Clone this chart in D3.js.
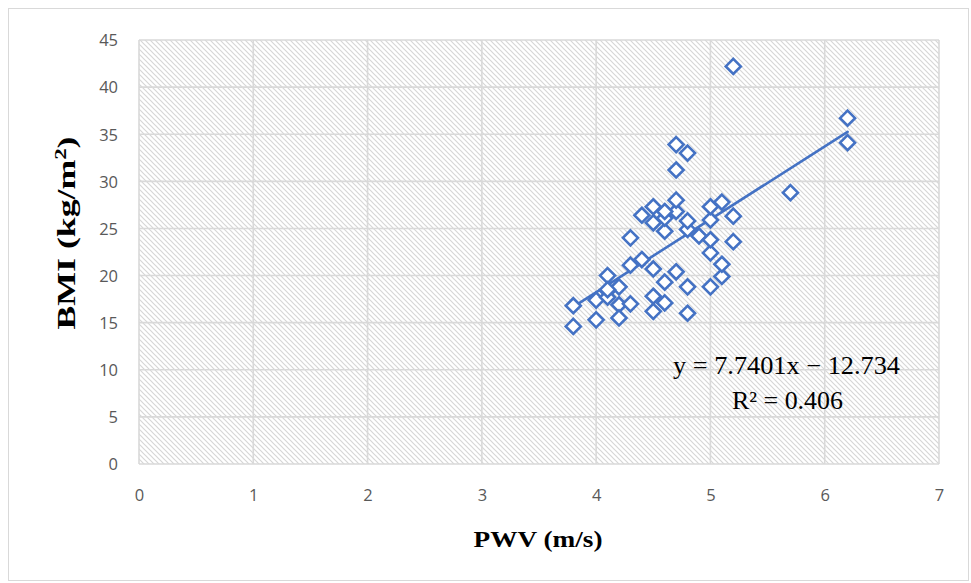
<!DOCTYPE html>
<html>
<head>
<meta charset="utf-8">
<script src="https://cdn.jsdelivr.net/npm/d3@7"></script>
<style>
  body { margin: 0; background: #fff; }
  svg { display: block; }
</style>
</head>
<body>
<svg width="971" height="583"></svg>
<script>
// PWV (m/s) vs BMI (kg/m2)
var pwv = [3.8, 3.8, 4.0, 4.0, 4.1, 4.1, 4.1, 4.2, 4.2, 4.2, 4.3, 4.3, 4.3,
  4.4, 4.4, 4.5, 4.5, 4.5, 4.5, 4.5, 4.6, 4.6, 4.6, 4.6, 4.7, 4.7, 4.7,
  4.7, 4.7, 4.8, 4.8, 4.8, 4.8, 4.8, 4.9, 5.0, 5.0, 5.0, 5.0, 5.0, 5.1,
  5.1, 5.1, 5.2, 5.2, 5.2, 5.7, 6.2, 6.2, 4.1, 4.6];
var bmi = [16.8, 14.6, 17.4, 15.3, 20.0, 18.4, 17.7, 18.8, 16.9, 15.5, 21.1, 17.0, 24.0,
  21.7, 26.4, 20.7, 17.8, 16.2, 25.6, 27.3, 19.3, 17.1, 24.7, 26.1, 20.4, 26.8, 28.0,
  31.2, 33.9, 18.8, 16.0, 24.9, 25.8, 33.0, 24.2, 18.8, 22.4, 23.8, 25.9, 27.3, 19.9,
  21.2, 27.8, 23.6, 26.3, 42.2, 28.8, 36.7, 34.1, 18.5, 26.8];

var slope = 7.7401, intercept = -12.734, r2 = "0.406";
var xTicks = [0, 1, 2, 3, 4, 5, 6, 7];
var yTicks = [0, 5, 10, 15, 20, 25, 30, 35, 40, 45];

var svg = d3.select("svg");
var blue = "#4472C4";
var grid = "#d9d9d9";
var serif = "'Liberation Serif', 'DejaVu Serif', serif";

var x = d3.scaleLinear().domain([0, 7]).range([139, 939]);
var y = d3.scaleLinear().domain([0, 45]).range([464, 40]);

// chart border
svg.append("rect")
  .attr("x", 8.5).attr("y", 8.5)
  .attr("width", 960).attr("height", 572)
  .attr("fill", "#fff")
  .attr("stroke", grid);

// hatch fill of the plot area
var pat = svg.append("defs").append("pattern")
  .attr("id", "hatch")
  .attr("patternUnits", "userSpaceOnUse")
  .attr("width", 5).attr("height", 5);
pat.append("path")
  .attr("d", "M-1,-1 L6,6 M-1,4 L1,6 M4,-1 L6,1")
  .attr("stroke", "#d6d6d6")
  .attr("stroke-width", 1.2);

svg.append("rect")
  .attr("x", x(0)).attr("y", y(45))
  .attr("width", x(7) - x(0)).attr("height", y(0) - y(45))
  .attr("fill", "url(#hatch)");

// gridlines
svg.append("g")
  .selectAll("line")
  .data(yTicks)
  .enter()
  .append("line")
  .attr("x1", x(0)).attr("x2", x(7))
  .attr("y1", d => y(d)).attr("y2", d => y(d))
  .attr("stroke", grid).attr("stroke-width", 1.6);

svg.append("g")
  .selectAll("line")
  .data(xTicks)
  .enter()
  .append("line")
  .attr("y1", y(0)).attr("y2", y(45))
  .attr("x1", d => x(d)).attr("x2", d => x(d))
  .attr("stroke", grid).attr("stroke-width", 1.6);

// axes (labels only)
var yAxis = svg.append("g")
  .attr("transform", "translate(" + (x(0) - 21) + ",0)")
  .call(d3.axisLeft(y).tickValues(yTicks).tickSize(0).tickPadding(0).tickFormat(d3.format("d")));
var xAxis = svg.append("g")
  .attr("transform", "translate(0," + (y(0) + 25) + ")")
  .call(d3.axisBottom(x).tickValues(xTicks).tickSize(0).tickPadding(0).tickFormat(d3.format("d")));
[yAxis, xAxis].forEach(function(a) {
  a.select(".domain").remove();
  a.selectAll("text")
    .attr("fill", "#595959")
    .style("font-family", "'Open Sans', sans-serif")
    .style("font-size", "16.5px");
});
yAxis.selectAll("text").attr("dy", "0.35em");
xAxis.selectAll("text").attr("dy", "0.71em");

// trend line
svg.append("line")
  .attr("x1", x(d3.min(pwv))).attr("y1", y(slope * d3.min(pwv) + intercept))
  .attr("x2", x(d3.max(pwv))).attr("y2", y(slope * d3.max(pwv) + intercept))
  .attr("stroke", blue).attr("stroke-width", 2.6)
  .attr("stroke-linecap", "round");

// diamonds
svg.append("g")
  .selectAll("path")
  .data(pwv)
  .enter()
  .append("path")
  .attr("transform", (d, i) => "translate(" + x(d) + "," + y(bmi[i]) + ")")
  .attr("d", "M0,-7.5 L7.5,0 L0,7.5 L-7.5,0 Z")
  .attr("fill", "#fff")
  .attr("stroke", blue)
  .attr("stroke-width", 2.6);

// equation
svg.append("text")
  .attr("x", 786.5).attr("y", 374)
  .attr("text-anchor", "middle")
  .attr("textLength", 227).attr("lengthAdjust", "spacingAndGlyphs")
  .style("font-family", serif).style("font-size", "25px")
  .text("y = " + slope + "x \u2212 " + Math.abs(intercept));
svg.append("text")
  .attr("x", 787.5).attr("y", 409)
  .attr("text-anchor", "middle")
  .attr("textLength", 111).attr("lengthAdjust", "spacingAndGlyphs")
  .style("font-family", serif).style("font-size", "25px")
  .text("R\u00b2 = " + r2);

// axis titles
svg.append("text")
  .attr("x", 538).attr("y", 547)
  .attr("text-anchor", "middle")
  .attr("textLength", 129).attr("lengthAdjust", "spacingAndGlyphs")
  .style("font-family", serif).style("font-size", "23px").style("font-weight", "bold")
  .text("PWV (m/s)");
var yt = svg.append("text")
  .attr("transform", "translate(75,233) rotate(-90)")
  .attr("text-anchor", "middle")
  .attr("textLength", 193).attr("lengthAdjust", "spacingAndGlyphs")
  .style("font-family", serif).style("font-size", "25px").style("font-weight", "bold");
yt.append("tspan").text("BMI (kg/m");
yt.append("tspan").attr("dy", -9).style("font-size", "16px").text("2");
yt.append("tspan").attr("dy", 9).text(")");
</script>
</body>
</html>
